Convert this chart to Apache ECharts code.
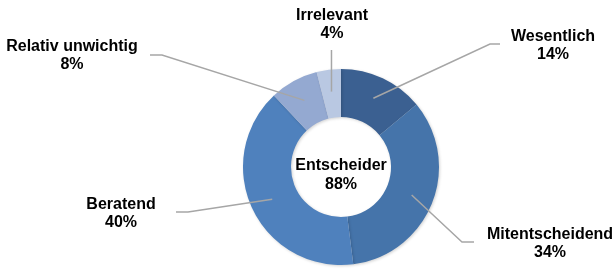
<!DOCTYPE html>
<html>
<head>
<meta charset="utf-8">
<script src="https://cdn.jsdelivr.net/npm/echarts@6/dist/echarts.min.js"></script>
<style>
  html, body { margin: 0; padding: 0; background: #fff; }
  #main { width: 616px; height: 269px; }
</style>
</head>
<body>
<div id="main"></div>
<script>
const categories = ['Wesentlich', 'Mitentscheidend', 'Beratend', 'Relativ unwichtig', 'Irrelevant']
const shares = [14, 34, 40, 8, 4]
const colors = ['#3b6091', '#4574aa', '#4f81bd', '#94a9d1', '#b9c8e2']
// the first three make up the "Entscheider" group
const deciderCount = 3
const deciderShare = shares.slice(0, deciderCount).reduce((a, b) => a + b, 0)

// label placement: center of text block, bend of leader line, end of leader line
const labelSpots = [
  { x: 553, y: 46, bend: [490, 44], end: [500, 44] },
  { x: 550, y: 244, bend: [462, 242], end: [474, 242] },
  { x: 121, y: 214, bend: [188, 212], end: [176, 212] },
  { x: 72, y: 56, bend: [162, 55], end: [150, 55] },
  { x: 332, y: 25, bend: null, end: [332, 50] }
]

const pieData = categories.map((name, i) => ({
  name: name,
  value: shares[i],
  itemStyle: { color: colors[i] }
}))

const chart = echarts.init(document.getElementById('main'))
chart.setOption({
  animation: false,
  series: [
    {
      type: 'pie',
      center: [341, 167],
      radius: [50, 98],
      startAngle: 90,
      clockwise: true,
      silent: true,
      label: { show: false },
      labelLine: { show: false },
      itemStyle: {
        borderWidth: 0,
        shadowColor: 'rgba(0,0,0,0.18)',
        shadowBlur: 3,
        shadowOffsetX: 1,
        shadowOffsetY: 1
      },
      data: pieData
    },
    {
      // invisible helper pie: its label lines start inside the ring
      type: 'pie',
      z: 5,
      center: [341, 167],
      radius: [0, 76],
      startAngle: 90,
      clockwise: true,
      silent: true,
      avoidLabelOverlap: false,
      itemStyle: { color: 'rgba(0,0,0,0)' },
      emphasis: { disabled: true },
      label: {
        show: true,
        position: 'outside',
        formatter: p => p.name + '\n' + p.value + '%',
        color: '#000',
        fontFamily: 'Liberation Sans, Arial, sans-serif',
        fontWeight: 'bold',
        fontSize: 16,
        lineHeight: 18,
        align: 'center'
      },
      labelLine: {
        show: true,
        length: 10,
        length2: 10,
        lineStyle: { color: '#a6a6a6', width: 1.5 }
      },
      labelLayout: params => {
        const spot = labelSpots[params.dataIndex]
        const start = params.labelLinePoints[0]
        const pts = spot.bend
          ? [start, spot.bend, spot.end]
          : [start, [start[0], spot.end[1]], [start[0], spot.end[1]]]
        return {
          x: spot.x,
          y: spot.y,
          align: 'center',
          verticalAlign: 'middle',
          labelLinePoints: pts
        }
      },
      data: pieData.map(d => ({ name: d.name, value: d.value }))
    }
  ],
  graphic: [
    {
      type: 'text',
      x: 341,
      y: 175,
      style: {
        text: 'Entscheider\n' + deciderShare + '%',
        fill: '#000',
        font: 'bold 16px "Liberation Sans", Arial, sans-serif',
        lineHeight: 19,
        align: 'center',
        verticalAlign: 'middle'
      }
    }
  ]
})
</script>
</body>
</html>
